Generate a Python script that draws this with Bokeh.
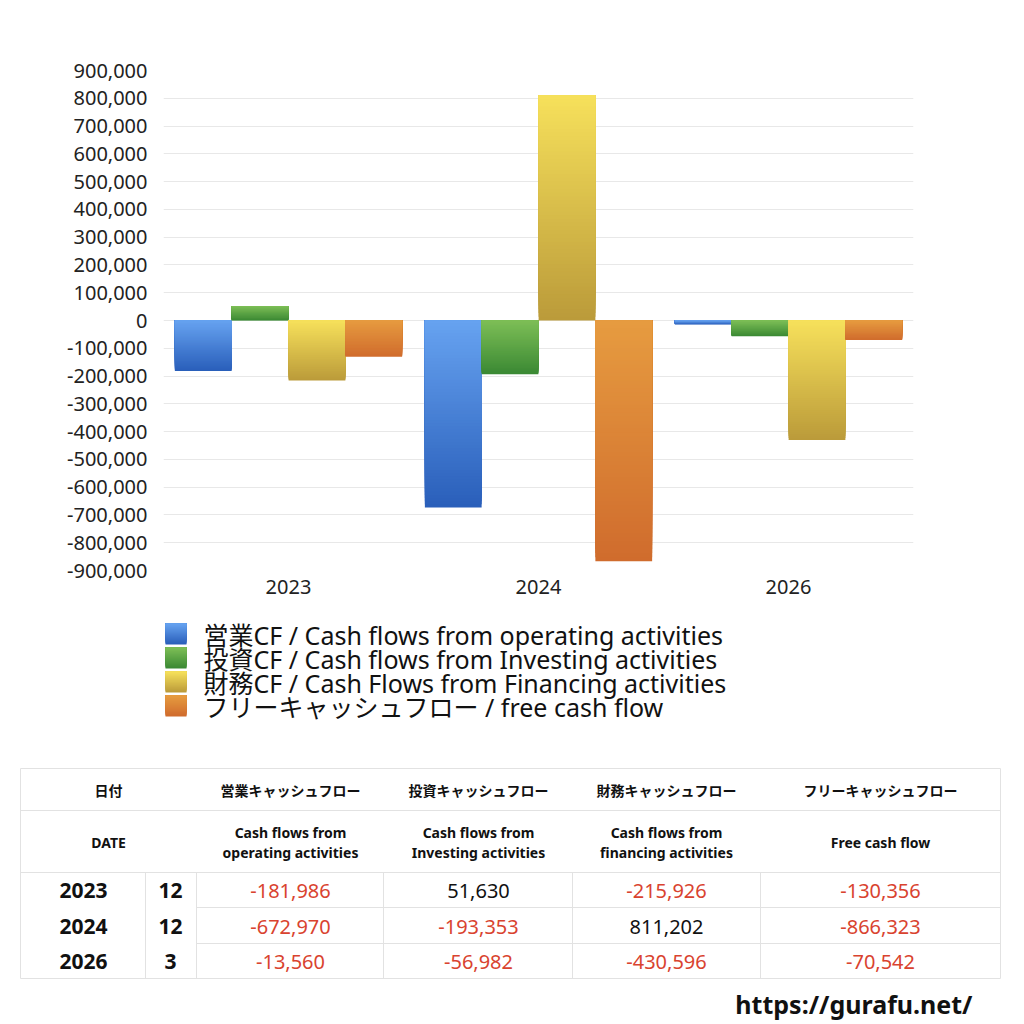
from bokeh.plotting import figure
from bokeh.models import FactorRange, Range1d, NumeralTickFormatter, FixedTicker, ColumnDataSource
from bokeh.transform import dodge
from bokeh.core.properties import value
from bokeh.embed import file_html
from bokeh.resources import INLINE

# data
years = ["2023", "2024", "2026"]
months = ["12", "12", "3"]
operating = [-181986, -672970, -13560]
investing = [51630, -193353, -56982]
financing = [-215926, 811202, -430596]
free_cf = [-130356, -866323, -70542]

legend_names = [
    "営業CF / Cash flows from operating activities",
    "投資CF / Cash flows from Investing activities",
    "財務CF / Cash Flows from Financing activities",
    "フリーキャッシュフロー / free cash flow",
]
head_jp = ["営業キャッシュフロー", "投資キャッシュフロー", "財務キャッシュフロー", "フリーキャッシュフロー"]
head_en = [["Cash flows from", "operating activities"],
           ["Cash flows from", "Investing activities"],
           ["Cash flows from", "financing activities"],
           ["Free cash flow"]]
y_ticks = list(range(-900000, 900001, 100000))

FONT = "Noto Sans, Noto Sans CJK JP"
# (light top, dark bottom) per series
grads = [("#66a2f0", "#2a5fba"), ("#7dbe56", "#3b8934"),
         ("#f6e05b", "#bb9b3a"), ("#e69b40", "#d06c2d")]


def mix(c1, c2, t):
    a = [int(c1[i:i + 2], 16) for i in (1, 3, 5)]
    b = [int(c2[i:i + 2], 16) for i in (1, 3, 5)]
    return "#%02x%02x%02x" % tuple(round(a[i] + (b[i] - a[i]) * t) for i in range(3))


# ---- chart ----
p = figure(x_range=FactorRange(*years), y_range=Range1d(-900000, 900000),
           width=1008, height=600, output_backend="svg", toolbar_location=None, tools="",
           min_border_left=163, min_border_right=95, min_border_top=70, min_border_bottom=30)
p.outline_line_color = None
p.xgrid.grid_line_color = None
p.ygrid.grid_line_color = "#e8e8e8"
p.yaxis.ticker = FixedTicker(ticks=y_ticks)
p.yaxis.formatter = NumeralTickFormatter(format="0,0")
for ax in (p.xaxis, p.yaxis):
    ax.axis_line_color = None
    ax.major_tick_line_color = None
    ax.minor_tick_line_color = None
    ax.major_label_text_font = FONT
    ax.major_label_text_font_size = "20px"
    ax.major_label_text_color = "#222222"
p.yaxis.major_label_standoff = 10
p.xaxis.major_label_standoff = 3

N = 60
offsets = [-0.341, -0.114, 0.114, 0.341]
for vals, (top_c, bot_c), off in zip([operating, investing, financing, free_cf], grads, offsets):
    xs, bots, tops, cols = [], [], [], []
    for yr, v in zip(years, vals):
        lo, hi = min(v, 0), max(v, 0)
        for k in range(N):
            xs.append(yr)
            bots.append(lo + (hi - lo) * k / N)
            tops.append(hi)
            cols.append(mix(bot_c, top_c, k / (N - 1)))
    src = ColumnDataSource(dict(year=xs, bottom=bots, top=tops, color=cols))
    p.vbar(x=dodge("year", off, range=p.x_range), width=0.227, bottom="bottom", top="top",
           fill_color="color", line_color=None, source=src)

# ---- legend + table (second root, pixel-like coordinates) ----
t = figure(x_range=Range1d(0, 1008), y_range=Range1d(1024, 600), width=1008, height=424,
           output_backend="svg", toolbar_location=None, tools="", min_border=0)
t.axis.visible = False
t.grid.grid_line_color = None
t.outline_line_color = None

# legend: gradient swatches + labels
M = 21
sw_l, sw_b, sw_t, sw_c = [], [], [], []
for i, (top_c, bot_c) in enumerate(grads):
    top = 623 + 24 * i
    for k in range(M):
        sw_l.append(165)
        sw_t.append(top)
        sw_b.append(top + 21 - k)
        sw_c.append(mix(bot_c, top_c, k / (M - 1)))
t.quad(left=sw_l, right=[186] * len(sw_l), top=sw_t, bottom=sw_b, fill_color=sw_c, line_color=None)
t.text(x=[203] * 4, y=[634 + 24 * i for i in range(4)], text=legend_names, text_align="left",
       text_baseline="middle", text_font=value(FONT), text_font_size="25px", text_color="#111111")

lc = "#e2e2e2"
# horizontal rules
t.segment(x0=[20, 20, 20, 196, 196, 20], x1=[1000] * 6, y0=[768, 810, 872, 907, 943, 978],
          y1=[768, 810, 872, 907, 943, 978], line_color=lc, line_width=1)
# vertical rules
t.segment(x0=[20, 1000, 145, 196, 383, 572, 760], x1=[20, 1000, 145, 196, 383, 572, 760],
          y0=[768, 768, 872, 872, 872, 872, 872], y1=[978] * 7, line_color=lc, line_width=1)

col_x = [290, 478, 666, 880]
t.text(x=[108] + col_x, y=[790] * 5, text=["日付"] + head_jp, text_align="center", text_baseline="middle",
       text_font=value(FONT), text_font_style="bold", text_font_size="14px", text_color="#111111")

ex, ey, et = [108], [842], ["DATE"]
for cx, lines in zip(col_x, head_en):
    if len(lines) == 2:
        ex += [cx, cx]
        ey += [832, 852]
    else:
        ex.append(cx)
        ey.append(842)
    et += lines
t.text(x=ex, y=ey, text=et, text_align="center", text_baseline="middle",
       text_font=value(FONT), text_font_style="bold", text_font_size="14px", text_color="#111111")

row_y = [890, 926, 961]
t.text(x=[83] * 3, y=row_y, text=years, text_align="center", text_baseline="middle",
       text_font=value(FONT), text_font_style="bold", text_font_size="21px", text_color="#111111")
t.text(x=[170] * 3, y=row_y, text=months, text_align="center", text_baseline="middle",
       text_font=value(FONT), text_font_style="bold", text_font_size="21px", text_color="#111111")

vx, vy, vt, vc = [], [], [], []
for cx, vals in zip(col_x, [operating, investing, financing, free_cf]):
    for ry, v in zip(row_y, vals):
        vx.append(cx)
        vy.append(ry)
        vt.append("{:,}".format(v))
        vc.append("#d9432f" if v < 0 else "#111111")
t.text(x=vx, y=vy, text=vt, text_color=vc, text_align="center", text_baseline="middle",
       text_font=value(FONT), text_font_size="20px")

t.text(x=[972], y=[1003], text=["https://gurafu.net/"], text_align="right", text_baseline="middle",
       text_font=value(FONT), text_font_style="bold", text_font_size="25px", text_color="#111111")

open("out.html", "w").write(file_html([p, t], INLINE))
